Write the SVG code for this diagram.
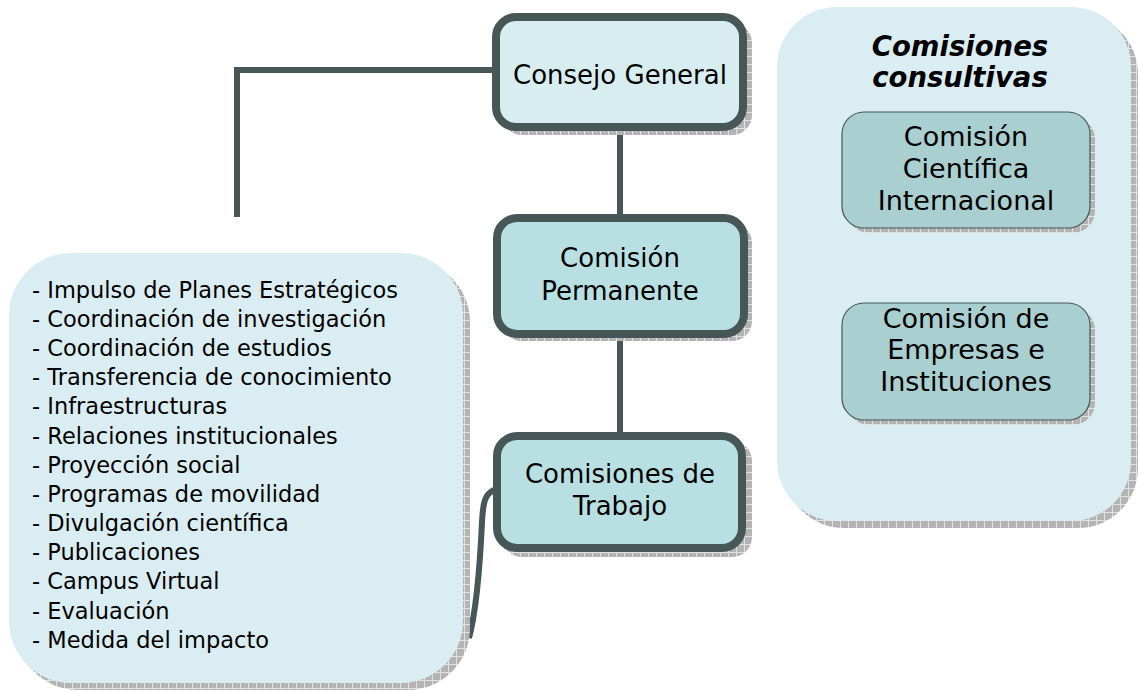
<svg xmlns="http://www.w3.org/2000/svg" width="1139" height="691" viewBox="0 0 1139 691">
<defs>
<pattern id="hatch" width="8" height="8" patternUnits="userSpaceOnUse">
<rect width="8" height="8" fill="#b4b4b4"/>
<path d="M0 0.5H8M0.5 0V8" stroke="#e2e2e2" stroke-width="1"/>
</pattern>
</defs>
<style>
.t{font-family:"DejaVu Sans",Verdana,sans-serif;fill:#000;}
.n{font-size:26px;text-anchor:middle;}
.m{font-size:27px;text-anchor:middle;}
.l{font-size:22.5px;}
.h{font-size:27.5px;font-weight:bold;font-style:italic;text-anchor:middle;}
.sh{fill:url(#hatch);}
.main{stroke:#475757;stroke-width:8;}
.inner{fill:#a9cfd0;stroke:#475757;stroke-width:1.2;}
.cont{fill:#daedf2;}
.conn{fill:none;stroke:#475757;stroke-width:6;}
</style>
<g id="connectors">
<path class="conn" d="M492 70H237V217"/>
<path class="conn" d="M620 130V215"/>
<path class="conn" d="M620 337V433"/>
<path class="conn" d="M494 490C485 494 483 502 482 522C480 565 476 612 469 638" stroke-width="5"/>
</g>
<g id="lista">
<rect class="sh" x="16" y="260" width="454" height="430" rx="62"/>
<rect class="cont" x="9" y="253" width="454" height="430" rx="62"/>
<text class="t l" x="32">
<tspan x="32" y="298">- Impulso de Planes Estratégicos</tspan>
<tspan x="32" y="327">- Coordinación de investigación</tspan>
<tspan x="32" y="356">- Coordinación de estudios</tspan>
<tspan x="32" y="385">- Transferencia de conocimiento</tspan>
<tspan x="32" y="414">- Infraestructuras</tspan>
<tspan x="32" y="444">- Relaciones institucionales</tspan>
<tspan x="32" y="473">- Proyección social</tspan>
<tspan x="32" y="502">- Programas de movilidad</tspan>
<tspan x="32" y="531">- Divulgación científica</tspan>
<tspan x="32" y="560">- Publicaciones</tspan>
<tspan x="32" y="589">- Campus Virtual</tspan>
<tspan x="32" y="619">- Evaluación</tspan>
<tspan x="32" y="648">- Medida del impacto</tspan>
</text>
</g>
<g id="consejo-general">
<rect class="sh" x="502" y="23" width="250" height="112" rx="20"/>
<rect class="main" x="496" y="17" width="247" height="110" rx="20" fill="#d8edf0"/>
<text class="t n" x="620" y="84">Consejo General</text>
</g>
<g id="comision-permanente">
<rect class="sh" x="502" y="223" width="250" height="118" rx="20"/>
<rect class="main" x="497" y="218" width="247" height="116" rx="20" fill="#b8e0e2"/>
<text class="t n" x="620" y="267">Comisión</text>
<text class="t n" x="620" y="300">Permanente</text>
</g>
<g id="comisiones-trabajo">
<rect class="sh" x="502" y="441" width="250" height="116" rx="20"/>
<rect class="main" x="497" y="436" width="245" height="112" rx="20" fill="#b8e0e2"/>
<text class="t n" x="620" y="483">Comisiones de</text>
<text class="t n" x="620" y="515">Trabajo</text>
</g>
<g id="comisiones-consultivas">
<rect class="sh" x="784" y="14" width="354" height="514" rx="60"/>
<rect class="cont" x="777" y="7" width="354" height="514" rx="60"/>
<text class="t h" x="960" y="56">Comisiones</text>
<text class="t h" x="960" y="87">consultivas</text>
</g>
<g id="comision-cientifica">
<rect class="sh" x="847" y="117" width="248" height="116" rx="22"/>
<rect class="inner" x="842" y="112" width="248" height="116" rx="22"/>
<text class="t m" x="966" y="146">Comisión</text>
<text class="t m" x="966" y="178">Científica</text>
<text class="t m" x="966" y="210">Internacional</text>
</g>
<g id="comision-empresas">
<rect class="sh" x="847" y="308" width="248" height="117" rx="22"/>
<rect class="inner" x="842" y="303" width="248" height="117" rx="22"/>
<text class="t m" x="966" y="328">Comisión de</text>
<text class="t m" x="966" y="359">Empresas e</text>
<text class="t m" x="966" y="391">Instituciones</text>
</g>
</svg>
